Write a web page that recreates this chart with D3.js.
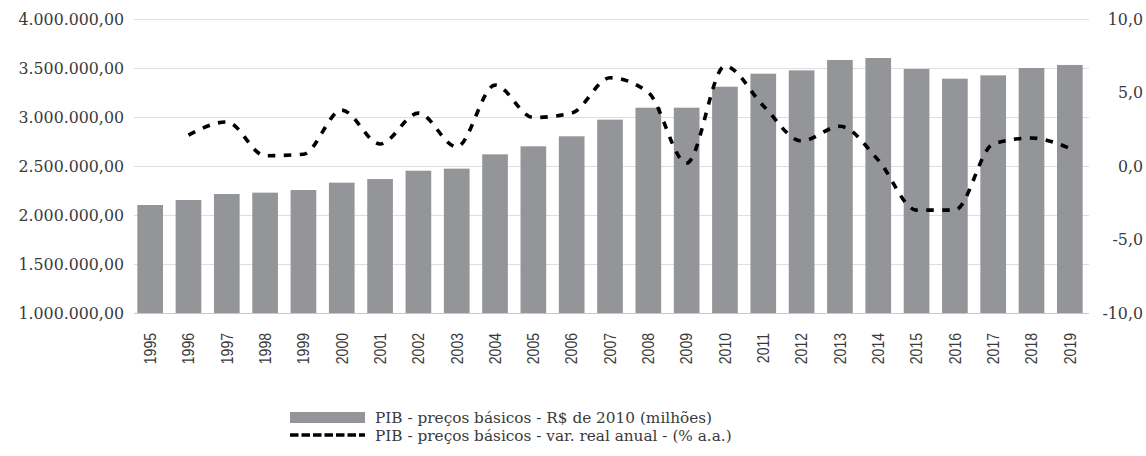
<!DOCTYPE html>
<html>
<head>
<meta charset="utf-8">
<script src="https://cdn.jsdelivr.net/npm/d3@7"></script>
<style>
  html, body { margin: 0; padding: 0; background: #ffffff; }
  svg { display: block; }
</style>
</head>
<body>
<svg id="chart" width="1146" height="456"></svg>
<script>
const years = ["1995","1996","1997","1998","1999","2000","2001","2002","2003","2004","2005","2006","2007","2008","2009","2010","2011","2012","2013","2014","2015","2016","2017","2018","2019"];
const pibValues = [2102000, 2153000, 2214000, 2228000, 2255000, 2330000, 2367000, 2452000, 2473000, 2619000, 2701000, 2803000, 2973000, 3095000, 3095000, 3309000, 3442000, 3476000, 3582000, 3602000, 3490000, 3391000, 3425000, 3500000, 3531000];
const varYears = ["1996","1997","1998","1999","2000","2001","2002","2003","2004","2005","2006","2007","2008","2009","2010","2011","2012","2013","2014","2015","2016","2017","2018","2019"];
const varValues = [2.1, 3.0, 0.7, 0.8, 3.8, 1.5, 3.6, 1.3, 5.5, 3.3, 3.6, 6.0, 5.0, 0.2, 6.8, 4.1, 1.7, 2.7, 0.4, -3.0, -3.0, 1.5, 1.9, 1.2];
const leftTicks = [1000000, 1500000, 2000000, 2500000, 3000000, 3500000, 4000000];
const rightTicks = [-10, -5, 0, 5, 10];
const legendLabels = ["PIB - preços básicos - R$ de 2010 (milhões)", "PIB - preços básicos - var. real anual - (% a.a.)"];

const svg = d3.select("#chart");
const serif = "'DejaVu Serif', serif";
const sans = "'Liberation Sans', Arial, sans-serif";
const barColor = "#949599";
const textColor = "#3a3a3a";

const plotLeft = 131, plotRight = 1089, plotTop = 19, plotBottom = 313;

const x = d3.scaleBand().domain(years).range([plotLeft, plotRight]).paddingInner(0.33).paddingOuter(0.165);
const yL = d3.scaleLinear().domain([1000000, 4000000]).range([plotBottom, plotTop]);
const yR = d3.scaleLinear().domain([-10, 10]).range([plotBottom, plotTop]);

const fmtL = v => d3.format(",.2f")(v).replace(/,/g, "#").replace(/\./g, ",").replace(/#/g, ".");
const fmtR = v => d3.format(".1f")(v).replace(".", ",").replace("−", "-");

// gridlines
svg.append("g").selectAll("line").data(leftTicks.filter(t => t > 1000000)).join("line")
  .attr("x1", plotLeft + 3).attr("x2", plotRight)
  .attr("y1", d => Math.round(yL(d)) + 0.5).attr("y2", d => Math.round(yL(d)) + 0.5)
  .attr("stroke", "#dedede").attr("stroke-width", 1);

// bars
svg.append("g").selectAll("rect").data(years).join("rect")
  .attr("x", d => x(d)).attr("width", x.bandwidth())
  .attr("y", (d, i) => yL(pibValues[i]))
  .attr("height", (d, i) => yL(1000000) - yL(pibValues[i]))
  .attr("fill", barColor);

// baseline
svg.append("line").attr("x1", plotLeft + 3).attr("x2", plotRight)
  .attr("y1", plotBottom + 0.5).attr("y2", plotBottom + 0.5)
  .attr("stroke", "#c8c8c8").attr("stroke-width", 1.2);

// line
const line = d3.line()
  .x((d, i) => x(varYears[i]) + x.bandwidth() / 2)
  .y(d => yR(d))
  .curve(d3.curveMonotoneX);
svg.append("path").datum(varValues)
  .attr("d", line)
  .attr("fill", "none").attr("stroke", "#000").attr("stroke-width", 3.6)
  .attr("stroke-dasharray", "7.5,8.5");

// left axis
const axL = d3.axisLeft(yL).tickValues(leftTicks).tickFormat(fmtL).tickSize(0).tickPadding(0);
const gL = svg.append("g").attr("transform", `translate(124,0)`).call(axL);
gL.select(".domain").remove();
gL.selectAll("text").attr("font-family", serif).attr("font-size", 15.8).attr("fill", textColor);

// right axis
const axR = d3.axisRight(yR).tickValues(rightTicks).tickFormat(fmtR).tickSize(0).tickPadding(0);
const gR = svg.append("g").attr("transform", `translate(1143,0)`).call(axR);
gR.select(".domain").remove();
gR.selectAll("text").attr("font-family", serif).attr("font-size", 15.8).attr("fill", textColor).attr("text-anchor", "end");

// x axis
const axX = d3.axisBottom(x).tickSize(0).tickPadding(0);
const gX = svg.append("g").attr("transform", `translate(0,333)`).call(axX);
gX.select(".domain").remove();
gX.selectAll("text")
  .attr("font-family", sans).attr("font-size", 16.5).attr("fill", textColor)
  .attr("transform", "rotate(-90) scale(0.85,1)")
  .attr("text-anchor", "end").attr("dy", "0.35em").attr("x", 0).attr("y", 0);

// legend
const lg = svg.append("g");
lg.append("rect").attr("x", 290).attr("y", 412).attr("width", 75).attr("height", 11).attr("fill", barColor);
lg.append("line").attr("x1", 290).attr("x2", 365).attr("y1", 435).attr("y2", 435)
  .attr("stroke", "#000").attr("stroke-width", 3.6).attr("stroke-dasharray", "8.5,3");
lg.selectAll("text").data(legendLabels).join("text")
  .attr("x", 375).attr("y", (d, i) => 422.5 + i * 18.5)
  .attr("font-family", serif).attr("font-size", 15.3).attr("fill", textColor)
  .text(d => d);
</script>
</body>
</html>
